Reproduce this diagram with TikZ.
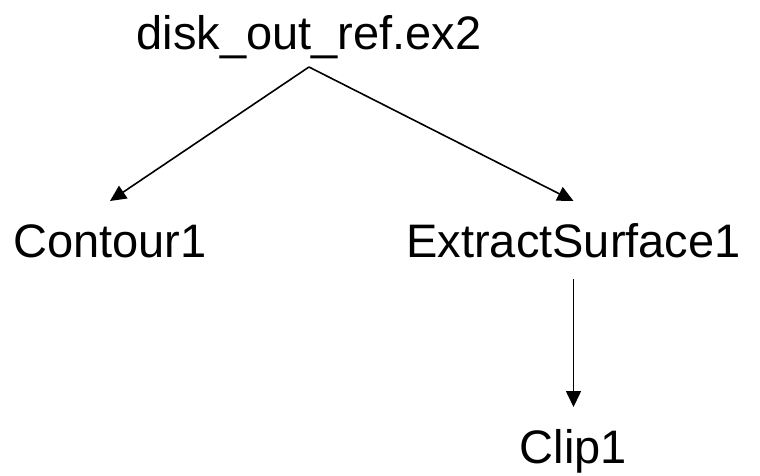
\documentclass[tikz,border=0pt]{standalone}
\usepackage{fontspec}
\setmainfont{Liberation Sans}
\usetikzlibrary{arrows.meta}
\begin{document}
\begin{tikzpicture}[x=1pt,y=-1pt,
  lbl/.style={anchor=base,inner sep=0pt,outer xsep=0pt,outer ysep=22pt,
    text height=34pt,text depth=0pt,font=\fontsize{47}{56}\selectfont},
  conn/.style={line width=1.6pt,-{Triangle[length=16pt,width=15pt]}}]
\useasboundingbox (0,0) rectangle (760,476);
\node[lbl,outer ysep=17pt] (root) at (309,50) {disk\_out\_ref.ex2};
\node[lbl] (c1) at (110,257) {Contour1};
\node[lbl] (es) at (573.5,257) {ExtractSurface1};
\node[lbl] (cl) at (573.5,463) {Clip1};
\draw[conn] (root.south) -- (c1.north);
\draw[conn] (root.south) -- (es.north);
\draw[conn] (es.south) -- (cl.north);
\end{tikzpicture}
\end{document}
